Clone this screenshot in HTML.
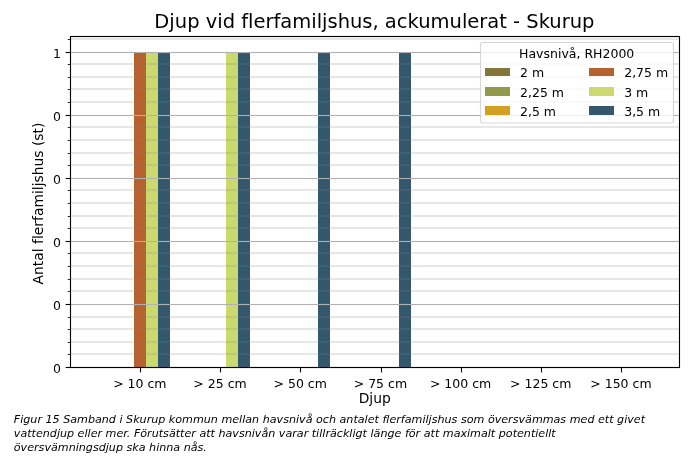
<!DOCTYPE html>
<html lang="sv"><head><meta charset="utf-8"><title>Djup vid flerfamiljshus, ackumulerat - Skurup</title>
<style>html,body{margin:0;padding:0;background:#fff;overflow:hidden}body{width:700px;height:459px}</style></head>
<body>
<svg width="700" height="459" viewBox="0 0 700 459" style="display:block;font-family:'DejaVu Sans','Liberation Sans',sans-serif;font-variant-ligatures:none">
<rect x="0" y="0" width="700" height="459" fill="#fff"/>
<g shape-rendering="crispEdges">
<rect x="134" y="52" width="12" height="316" fill="#b5622f"/>
<rect x="146" y="52" width="12" height="316" fill="#ccd96f"/>
<rect x="158" y="52" width="12" height="316" fill="#33586d"/>
<rect x="226" y="52" width="12" height="316" fill="#ccd96f"/>
<rect x="238" y="52" width="12" height="316" fill="#33586d"/>
<rect x="318" y="52" width="12" height="316" fill="#33586d"/>
<rect x="399" y="52" width="12" height="316" fill="#33586d"/>
</g>
<g fill="#808080" fill-opacity="0.19">
<rect x="70.5" y="352.96" width="609.0" height="2.08"/>
<rect x="70.5" y="340.96" width="609.0" height="2.08"/>
<rect x="70.5" y="327.96" width="609.0" height="2.08"/>
<rect x="70.5" y="315.96" width="609.0" height="2.08"/>
<rect x="70.5" y="289.96" width="609.0" height="2.08"/>
<rect x="70.5" y="277.96" width="609.0" height="2.08"/>
<rect x="70.5" y="264.96" width="609.0" height="2.08"/>
<rect x="70.5" y="251.96" width="609.0" height="2.08"/>
<rect x="70.5" y="226.96" width="609.0" height="2.08"/>
<rect x="70.5" y="214.96" width="609.0" height="2.08"/>
<rect x="70.5" y="201.96" width="609.0" height="2.08"/>
<rect x="70.5" y="188.96" width="609.0" height="2.08"/>
<rect x="70.5" y="163.96" width="609.0" height="2.08"/>
<rect x="70.5" y="151.96" width="609.0" height="2.08"/>
<rect x="70.5" y="138.96" width="609.0" height="2.08"/>
<rect x="70.5" y="125.96" width="609.0" height="2.08"/>
<rect x="70.5" y="100.96" width="609.0" height="2.08"/>
<rect x="70.5" y="87.96" width="609.0" height="2.08"/>
<rect x="70.5" y="75.96" width="609.0" height="2.08"/>
<rect x="70.5" y="62.96" width="609.0" height="2.08"/>
<rect x="70.5" y="37.96" width="609.0" height="2.08"/>
</g>
<g fill="#b0b0b0">
<rect x="70.5" y="366.945" width="609.0" height="1.11"/>
<rect x="70.5" y="303.945" width="609.0" height="1.11"/>
<rect x="70.5" y="240.945" width="609.0" height="1.11"/>
<rect x="70.5" y="177.945" width="609.0" height="1.11"/>
<rect x="70.5" y="114.945" width="609.0" height="1.11"/>
<rect x="70.5" y="51.945" width="609.0" height="1.11"/>
</g>
<g fill="#000">
<rect x="65.64" y="366.945" width="4.86" height="1.11"/>
<rect x="65.64" y="303.945" width="4.86" height="1.11"/>
<rect x="65.64" y="240.945" width="4.86" height="1.11"/>
<rect x="65.64" y="177.945" width="4.86" height="1.11"/>
<rect x="65.64" y="114.945" width="4.86" height="1.11"/>
<rect x="65.64" y="51.945" width="4.86" height="1.11"/>
<rect x="139.945" y="367.5" width="1.11" height="4.86"/>
<rect x="219.945" y="367.5" width="1.11" height="4.86"/>
<rect x="299.945" y="367.5" width="1.11" height="4.86"/>
<rect x="380.945" y="367.5" width="1.11" height="4.86"/>
<rect x="460.945" y="367.5" width="1.11" height="4.86"/>
<rect x="540.945" y="367.5" width="1.11" height="4.86"/>
<rect x="620.945" y="367.5" width="1.11" height="4.86"/>
<rect x="67.72" y="354.085" width="2.78" height="0.83"/>
<rect x="67.72" y="342.085" width="2.78" height="0.83"/>
<rect x="67.72" y="329.085" width="2.78" height="0.83"/>
<rect x="67.72" y="317.085" width="2.78" height="0.83"/>
<rect x="67.72" y="291.085" width="2.78" height="0.83"/>
<rect x="67.72" y="279.085" width="2.78" height="0.83"/>
<rect x="67.72" y="266.085" width="2.78" height="0.83"/>
<rect x="67.72" y="253.085" width="2.78" height="0.83"/>
<rect x="67.72" y="228.085" width="2.78" height="0.83"/>
<rect x="67.72" y="216.085" width="2.78" height="0.83"/>
<rect x="67.72" y="203.085" width="2.78" height="0.83"/>
<rect x="67.72" y="190.085" width="2.78" height="0.83"/>
<rect x="67.72" y="165.085" width="2.78" height="0.83"/>
<rect x="67.72" y="153.085" width="2.78" height="0.83"/>
<rect x="67.72" y="140.085" width="2.78" height="0.83"/>
<rect x="67.72" y="127.085" width="2.78" height="0.83"/>
<rect x="67.72" y="102.085" width="2.78" height="0.83"/>
<rect x="67.72" y="89.085" width="2.78" height="0.83"/>
<rect x="67.72" y="77.085" width="2.78" height="0.83"/>
<rect x="67.72" y="64.085" width="2.78" height="0.83"/>
<rect x="67.72" y="39.085" width="2.78" height="0.83"/>
</g>
<rect x="70.5" y="36.5" width="609" height="331" fill="none" stroke="#000" stroke-width="1.11"/>
<g font-size="12.5px" text-anchor="end" fill="#000">
<text x="60.9" y="372.80">0</text>
<text x="60.9" y="309.80">0</text>
<text x="60.9" y="246.80">0</text>
<text x="60.9" y="183.80">0</text>
<text x="60.9" y="120.80">0</text>
<text x="60.9" y="57.80">1</text>
</g>
<g font-size="12.5px" text-anchor="middle" fill="#000">
<text x="139.85" y="387.7">&gt; 10 cm</text>
<text x="220.03" y="387.7">&gt; 25 cm</text>
<text x="300.21" y="387.7">&gt; 50 cm</text>
<text x="380.39" y="387.7">&gt; 75 cm</text>
<text x="460.57" y="387.7">&gt; 100 cm</text>
<text x="540.75" y="387.7">&gt; 125 cm</text>
<text x="620.93" y="387.7">&gt; 150 cm</text>
</g>
<text x="374.7" y="402.7" font-size="13.89px" text-anchor="middle">Djup</text>
<text transform="translate(43.3,203.5) rotate(-90)" font-size="13.89px" text-anchor="middle">Antal flerfamiljshus (st)</text>
<text x="374.4" y="28.2" font-size="19.49px" text-anchor="middle">Djup vid flerfamiljshus, ackumulerat - Skurup</text>
<rect x="480.5" y="42.5" width="193.00" height="80.50" rx="2.5" ry="2.5" fill="#fff" fill-opacity="0.8" stroke="#ccc" stroke-opacity="0.8" stroke-width="1.1"/>
<text x="576.7" y="58.4" font-size="12.5px" text-anchor="middle">Havsnivå, RH2000</text>
<rect x="485" y="68" width="25" height="8" fill="#84763a" shape-rendering="crispEdges"/>
<text x="520.0" y="76.8" font-size="12.5px">2 m</text>
<rect x="485" y="87" width="25" height="9" fill="#92994a" shape-rendering="crispEdges"/>
<text x="520.0" y="96.7" font-size="12.5px">2,25 m</text>
<rect x="485" y="106" width="25" height="9" fill="#d3a021" shape-rendering="crispEdges"/>
<text x="520.0" y="115.7" font-size="12.5px">2,5 m</text>
<rect x="589" y="68" width="25" height="8" fill="#b5622f" shape-rendering="crispEdges"/>
<text x="624.2" y="76.8" font-size="12.5px">2,75 m</text>
<rect x="589" y="87" width="25" height="9" fill="#ccd96f" shape-rendering="crispEdges"/>
<text x="624.2" y="96.7" font-size="12.5px">3 m</text>
<rect x="589" y="106" width="25" height="9" fill="#33586d" shape-rendering="crispEdges"/>
<text x="624.2" y="115.7" font-size="12.5px">3,5 m</text>
<text x="13.8" y="423.40" font-size="11.135px" font-style="italic">Figur 15 Samband i Skurup kommun mellan havsnivå och antalet flerfamiljshus som översvämmas med ett givet</text>
<text x="13.8" y="437.30" font-size="11.135px" font-style="italic">vattendjup eller mer. Förutsätter att havsnivån varar tillräckligt länge för att maximalt potentiellt</text>
<text x="13.8" y="451.20" font-size="11.135px" font-style="italic">översvämningsdjup ska hinna nås.</text>
</svg>
</body></html>
